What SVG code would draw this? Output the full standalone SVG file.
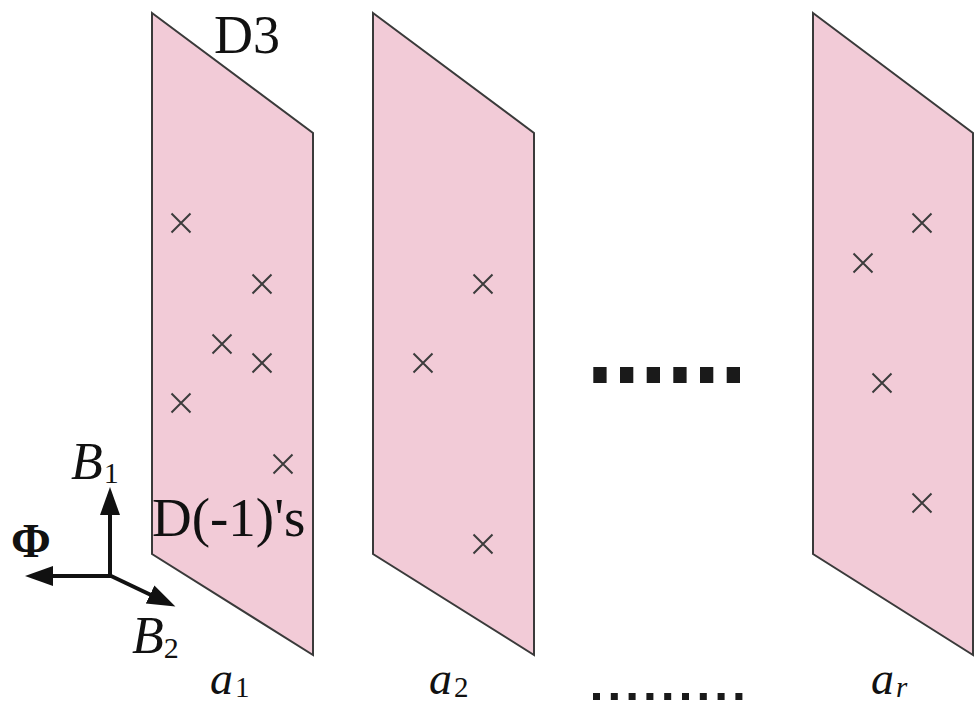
<svg xmlns="http://www.w3.org/2000/svg" xmlns:xlink="http://www.w3.org/1999/xlink" width="976" height="706" viewBox="0 0 976 706">
<style>
.plane{fill:#f2cbd7;stroke:#3a3a3a;stroke-width:2;stroke-linejoin:miter}
.x{stroke:#3c3c3c;stroke-width:2;fill:none}
.serif{font-family:"Liberation Serif","Times New Roman",serif;fill:#111}
.it{font-style:italic}
.axis{stroke:#111;stroke-width:4;fill:none}
.dot{fill:#1a1a1a}
</style>
<defs>
<path id="xm" class="x" d="M-9.5,-9.5 L9.5,9.5 M-9.5,9.5 L9.5,-9.5"/>
<marker id="ah" markerUnits="userSpaceOnUse" markerWidth="30" markerHeight="22" refX="1" refY="11" orient="auto">
<path d="M0,1 L28,11 L0,21 z" fill="#111"/>
</marker>
</defs>
<rect width="976" height="706" fill="#fff"/>
<g id="plane1">
<polygon class="plane" points="152,13 313,133 313,655 152,554"/>
<use xlink:href="#xm" x="181" y="223"/>
<use xlink:href="#xm" x="262" y="284"/>
<use xlink:href="#xm" x="222" y="344"/>
<use xlink:href="#xm" x="262" y="363"/>
<use xlink:href="#xm" x="181" y="403"/>
<use xlink:href="#xm" x="283" y="464"/>
<text class="serif" x="214" y="53" font-size="54">D3</text>
<text class="serif" x="152" y="536" font-size="55">D(-1)'s</text>
<text class="serif" x="210" y="694" font-size="46"><tspan class="it">a</tspan><tspan font-size="29" dx="2" dy="3">1</tspan></text>
</g>
<g id="plane2">
<polygon class="plane" points="373,13 534,133 534,655 373,554"/>
<use xlink:href="#xm" x="483" y="284"/>
<use xlink:href="#xm" x="423" y="363"/>
<use xlink:href="#xm" x="483" y="544"/>
<text class="serif" x="429" y="694" font-size="46"><tspan class="it">a</tspan><tspan font-size="29" dx="2" dy="3">2</tspan></text>
</g>
<g id="planer">
<polygon class="plane" points="813,13 973,133 973,655 813,554"/>
<use xlink:href="#xm" x="863" y="263"/>
<use xlink:href="#xm" x="922" y="223"/>
<use xlink:href="#xm" x="882" y="383"/>
<use xlink:href="#xm" x="922" y="503"/>
<text class="serif" x="871" y="694" font-size="46"><tspan class="it">a</tspan><tspan class="it" font-size="29" dx="2" dy="3">r</tspan></text>
</g>
<g id="ellipsis">
<rect class="dot" x="593.3" y="367" width="13.3" height="16"/>
<rect class="dot" x="620" y="367" width="13.3" height="16"/>
<rect class="dot" x="646.7" y="367" width="13.3" height="16"/>
<rect class="dot" x="673.3" y="367" width="13.3" height="16"/>
<rect class="dot" x="700" y="367" width="13.3" height="16"/>
<rect class="dot" x="726.7" y="367" width="13.3" height="16"/>
<rect class="dot" x="593" y="693" width="7" height="7"/>
<rect class="dot" x="610.8" y="693" width="7" height="7"/>
<rect class="dot" x="628.6" y="693" width="7" height="7"/>
<rect class="dot" x="646.4" y="693" width="7" height="7"/>
<rect class="dot" x="664.2" y="693" width="7" height="7"/>
<rect class="dot" x="682" y="693" width="7" height="7"/>
<rect class="dot" x="699.8" y="693" width="7" height="7"/>
<rect class="dot" x="717.6" y="693" width="7" height="7"/>
<rect class="dot" x="735.4" y="693" width="7" height="7"/>
</g>
<g id="connectors">
<line class="axis" x1="110" y1="578" x2="110" y2="514" marker-end="url(#ah)"/>
<line class="axis" x1="112" y1="576" x2="52" y2="576" marker-end="url(#ah)"/>
<line class="axis" x1="109" y1="575" x2="151" y2="595" marker-end="url(#ah)"/>
</g>
<g id="axes-labels">
<text class="serif" x="71" y="479" font-size="52"><tspan class="it">B</tspan><tspan font-size="30" dx="1" dy="4">1</tspan></text>
<text class="serif" x="11" y="557" font-size="48" font-weight="bold">Φ</text>
<text class="serif" x="132" y="653" font-size="52"><tspan class="it">B</tspan><tspan font-size="30" dx="0" dy="5">2</tspan></text>
</g>
</svg>
